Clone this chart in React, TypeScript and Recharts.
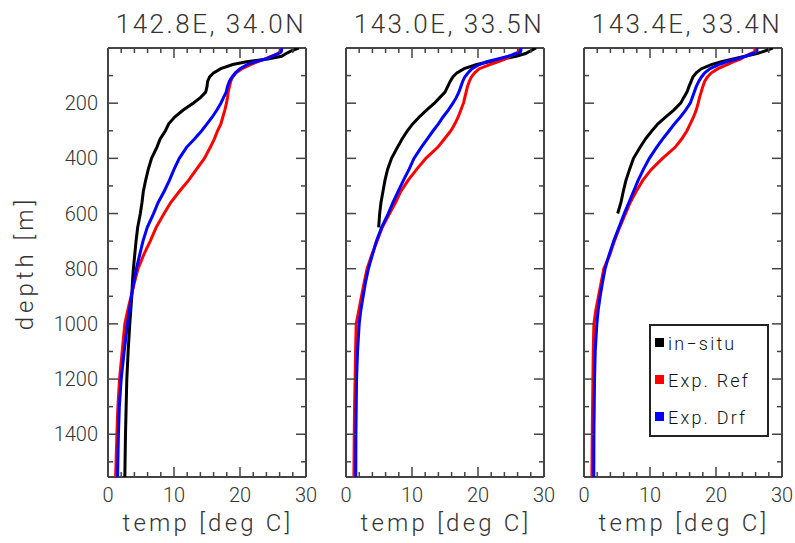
import { ScatterChart, Scatter, XAxis, YAxis } from "recharts";

// depth levels [m] shared by all profiles
const depths = [
  0, 10, 15, 20, 30, 40, 50, 60, 75, 90, 105, 120, 140, 160, 180, 200, 225, 250,
  275, 300, 330, 360, 400, 440, 480, 520, 560, 600, 650, 700, 750, 800, 850, 900,
  950, 1000, 1100, 1200, 1300, 1400, 1555,
];

const tempTicks = [0, 2, 4, 6, 8, 10, 12, 14, 16, 18, 20, 22, 24, 26, 28, 30];
const depthTicks = [100, 200, 300, 400, 500, 600, 700, 800, 900, 1000, 1100, 1200, 1300, 1400, 1500];

const panelTitles = ["142.8E, 34.0N", "143.0E, 33.5N", "143.4E, 33.4N"];
const seriesNames = ["in\u2212situ", "Exp. Ref", "Exp. Drf"];
const seriesColors = ["#000000", "#ff0000", "#0000ff"];

// 142.8E, 34.0N
const insitu1 = [
  28.9, 27.8, 27.4, 27.0, 26.3, 24.2, 21.0, 18.9, 17.1, 16.0, 15.4, 15.1, 15.0, 14.8, 14.0,
  12.9, 11.4, 10.1, 9.2, 8.7, 7.9, 7.4, 6.6, 6.1, 5.7, 5.35, 5.15, 4.9, 4.5, 4.25, 4.05,
  3.85, 3.7, 3.6, 3.45, 3.3, 3.05, 2.85, 2.75, 2.65, 2.55,
];
const ref1 = [
  26.1, 26.1, 26.0, 25.7, 24.8, 23.7, 22.6, 21.6, 20.3, 19.4, 18.9, 18.6, 18.4, 18.2, 18.1,
  17.95, 17.7, 17.4, 17.1, 16.6, 16.1, 15.5, 14.6, 13.4, 12.2, 10.8, 9.5, 8.5, 7.3, 6.4, 5.4,
  4.55, 4.0, 3.5, 3.0, 2.55, 2.15, 1.75, 1.5, 1.35, 1.15,
];
const drf1 = [
  26.3, 26.3, 26.2, 25.8, 24.8, 23.9, 22.3, 21.1, 20.0, 19.3, 18.8, 18.4, 18.1, 17.9, 17.5,
  17.1, 16.5, 15.8, 15.0, 14.2, 13.1, 11.9, 10.8, 10.0, 9.3, 8.5, 7.6, 6.9, 5.95, 5.3, 4.8,
  4.3, 3.9, 3.55, 3.25, 2.95, 2.45, 2.0, 1.72, 1.58, 1.45,
];

// 143.0E, 33.5N
const insitu2 = [
  28.8, 28.0, 27.6, 27.2, 25.8, 23.8, 21.7, 19.8, 17.9, 16.8, 16.2, 15.8, 15.4, 15.0, 14.2,
  13.4, 12.2, 11.1, 10.1, 9.3, 8.5, 7.8, 6.9, 6.3, 5.9, 5.6, 5.3, 5.1, 4.95,
];
const ref2 = [
  26.3, 26.3, 26.2, 25.6, 24.9, 24.1, 23.0, 21.8, 20.2, 19.5, 19.0, 18.7, 18.4, 18.2, 18.0,
  17.8, 17.4, 17.0, 16.5, 15.9, 14.9, 13.9, 12.1, 10.7, 9.4, 8.3, 7.5, 6.6, 5.5, 4.7, 3.9,
  3.2, 2.75, 2.35, 1.95, 1.55, 1.45, 1.38, 1.3, 1.25, 1.2,
];
const drf2 = [
  26.5, 26.5, 26.4, 25.8, 24.6, 23.0, 21.3, 20.2, 19.1, 18.5, 18.0, 17.7, 17.4, 17.1, 16.7,
  16.2, 15.5, 14.7, 14.0, 13.2, 12.3, 11.4, 10.3, 9.55, 8.7, 7.9, 7.1, 6.4, 5.4, 4.6, 4.0,
  3.4, 2.95, 2.6, 2.25, 2.0, 1.75, 1.6, 1.55, 1.5, 1.48,
];

// 143.4E, 33.4N
const insitu3 = [
  28.6, 27.5, 26.9, 26.2, 24.4, 22.6, 20.8, 19.3, 17.8, 17.0, 16.5, 16.25, 15.9, 15.6, 15.1,
  14.65, 13.6, 12.4, 11.2, 10.3, 9.3, 8.5, 7.5, 6.9, 6.35, 5.95, 5.6, 5.1,
];
const ref3 = [
  25.9, 25.9, 25.8, 25.2, 24.4, 23.7, 22.6, 21.7, 20.3, 19.3, 18.7, 18.3, 18.0, 17.75, 17.5,
  17.3, 17.0, 16.6, 16.1, 15.6, 14.8, 13.8, 11.9, 10.2, 8.9, 7.9, 7.0, 6.3, 5.4, 4.6, 3.9,
  3.0, 2.6, 2.2, 1.8, 1.5, 1.4, 1.35, 1.3, 1.25, 1.2,
];
const drf3 = [
  26.2, 26.2, 26.1, 25.6, 24.5, 23.1, 21.6, 20.4, 19.1, 18.3, 17.8, 17.4, 17.0, 16.7, 16.4,
  16.1, 15.4, 14.6, 13.7, 12.9, 11.9, 11.0, 9.9, 9.0, 8.2, 7.5, 6.8, 6.1, 5.3, 4.5, 3.8,
  3.2, 2.8, 2.45, 2.15, 1.95, 1.7, 1.6, 1.55, 1.5, 1.48,
];

const W = 795;
const H = 543;
const PLOT_TOP = 48;
const PLOT_BOTTOM = 477;
const panelLefts = [108, 346, 584];
const PANEL_W = 198;
const AXIS = "#444";
const FONT = "Roboto, 'DejaVu Sans', sans-serif";
const TEXT = "#333";

const profiles = [
  [insitu1, ref1, drf1],
  [insitu2, ref2, drf2],
  [insitu3, ref3, drf3],
];

const toPoints = (temps: number[]) => temps.map((t, i) => ({ temp: t, depth: depths[i] }));

type TickProps = { x?: number; y?: number; payload?: { value: number } };

function BottomTick({ x = 0, y = 0, payload }: TickProps) {
  const v = payload ? payload.value : 0;
  const major = v % 10 === 0;
  return (
    <g>
      <line x1={x} x2={x} y1={y} y2={y - (major ? 10 : 5)} stroke={AXIS} strokeWidth={1.5} />
      {major && (
        <text x={x} y={y + 25} textAnchor="middle" fontSize={20} fontWeight={300} fill={TEXT} fontFamily={FONT}>
          {v}
        </text>
      )}
    </g>
  );
}

function TopTick({ x = 0, y = 0, payload }: TickProps) {
  const v = payload ? payload.value : 0;
  return <line x1={x} x2={x} y1={y} y2={y + (v % 10 === 0 ? 10 : 5)} stroke={AXIS} strokeWidth={1.5} />;
}

function LeftTick({ x = 0, y = 0, payload, labels }: TickProps & { labels?: boolean }) {
  const v = payload ? payload.value : 0;
  const major = v % 200 === 0;
  return (
    <g>
      <line x1={x} x2={x + (major ? 10 : 5)} y1={y} y2={y} stroke={AXIS} strokeWidth={1.5} />
      {labels && major && (
        <text x={x - 10} y={y + 7} textAnchor="end" fontSize={20} fontWeight={300} fill={TEXT} fontFamily={FONT}>
          {v}
        </text>
      )}
    </g>
  );
}

function RightTick({ x = 0, y = 0, payload }: TickProps) {
  const v = payload ? payload.value : 0;
  return <line x1={x} x2={x - (v % 200 === 0 ? 10 : 5)} y1={y} y2={y} stroke={AXIS} strokeWidth={1.5} />;
}

function Panel({ idx }: { idx: number }) {
  const left = panelLefts[idx];
  const axisLine = { stroke: AXIS, strokeWidth: 2 };
  // axes get 1px of room each, so the plot box lands on the panel edges
  return (
    <div style={{ position: "absolute", left: 0, top: 0 }}>
      <ScatterChart
        width={W}
        height={H}
        margin={{ top: PLOT_TOP - 1, bottom: H - PLOT_BOTTOM - 1, left: left - 1, right: W - left - PANEL_W - 1 }}
      >
        <XAxis
          xAxisId="b"
          type="number"
          dataKey="temp"
          domain={[0, 30]}
          ticks={tempTicks}
          interval={0}
          height={1}
          tickSize={0}
          tickMargin={0}
          tickLine={false}
          axisLine={axisLine}
          tick={<BottomTick />}
          allowDataOverflow
        />
        <XAxis
          xAxisId="t"
          orientation="top"
          type="number"
          dataKey="temp"
          domain={[0, 30]}
          ticks={tempTicks}
          interval={0}
          height={1}
          tickSize={0}
          tickMargin={0}
          tickLine={false}
          axisLine={axisLine}
          tick={<TopTick />}
          allowDataOverflow
        />
        <YAxis
          yAxisId="l"
          type="number"
          dataKey="depth"
          domain={[0, 1555]}
          reversed
          ticks={depthTicks}
          interval={0}
          width={1}
          tickSize={0}
          tickMargin={0}
          tickLine={false}
          axisLine={axisLine}
          tick={<LeftTick labels={idx === 0} />}
          allowDataOverflow
        />
        <YAxis
          yAxisId="r"
          orientation="right"
          type="number"
          dataKey="depth"
          domain={[0, 1555]}
          reversed
          ticks={depthTicks}
          interval={0}
          width={1}
          tickSize={0}
          tickMargin={0}
          tickLine={false}
          axisLine={axisLine}
          tick={<RightTick />}
          allowDataOverflow
        />
        {profiles[idx].map((temps, s) => (
          <Scatter
            key={seriesNames[s]}
            name={seriesNames[s]}
            data={toPoints(temps)}
            xAxisId="b"
            yAxisId="l"
            line={{ stroke: seriesColors[s], strokeWidth: 3, fill: "none" }}
            lineType="joint"
            shape={() => <g />}
            isAnimationActive={false}
          />
        ))}
      </ScatterChart>
    </div>
  );
}

export default function App() {
  return (
    <div style={{ position: "absolute", left: 0, top: 0, width: W, height: H, background: "#fff" }}>
      {panelTitles.map((_, i) => (
        <Panel key={i} idx={i} />
      ))}
      <svg width={W} height={H} style={{ position: "absolute", left: 0, top: 0, pointerEvents: "none" }}>
        {panelTitles.map((t, i) => (
          <text
            key={t}
            x={panelLefts[i] + PANEL_W / 2 + 4}
            y={33}
            textAnchor="middle"
            fontSize={26}
            fontWeight={300}
            letterSpacing={2.5}
            fill={TEXT}
            fontFamily={FONT}
          >
            {t}
          </text>
        ))}
        {panelLefts.map((l) => (
          <text
            key={l}
            x={l + PANEL_W / 2 + 1}
            y={531}
            textAnchor="middle"
            fontSize={24}
            fontWeight={300}
            letterSpacing={3.2}
            fill={TEXT}
            fontFamily={FONT}
          >
            temp [deg C]
          </text>
        ))}
        <text
          x={33}
          y={263}
          transform="rotate(-90 33 263)"
          textAnchor="middle"
          fontSize={24}
          fontWeight={300}
          letterSpacing={4}
          fill={TEXT}
          fontFamily={FONT}
        >
          depth [m]
        </text>
        <rect x={650} y={325} width={118} height={111} fill="#fff" stroke="#222" strokeWidth={2} />
        {seriesNames.map((n, i) => (
          <g key={n}>
            <rect x={655} y={338 + i * 37} width={9} height={9} fill={seriesColors[i]} />
            <text x={668} y={350 + i * 37} fontSize={18} fontWeight={300} letterSpacing={2.2} fill="#111" fontFamily={FONT}>
              {n}
            </text>
          </g>
        ))}
      </svg>
    </div>
  );
}
